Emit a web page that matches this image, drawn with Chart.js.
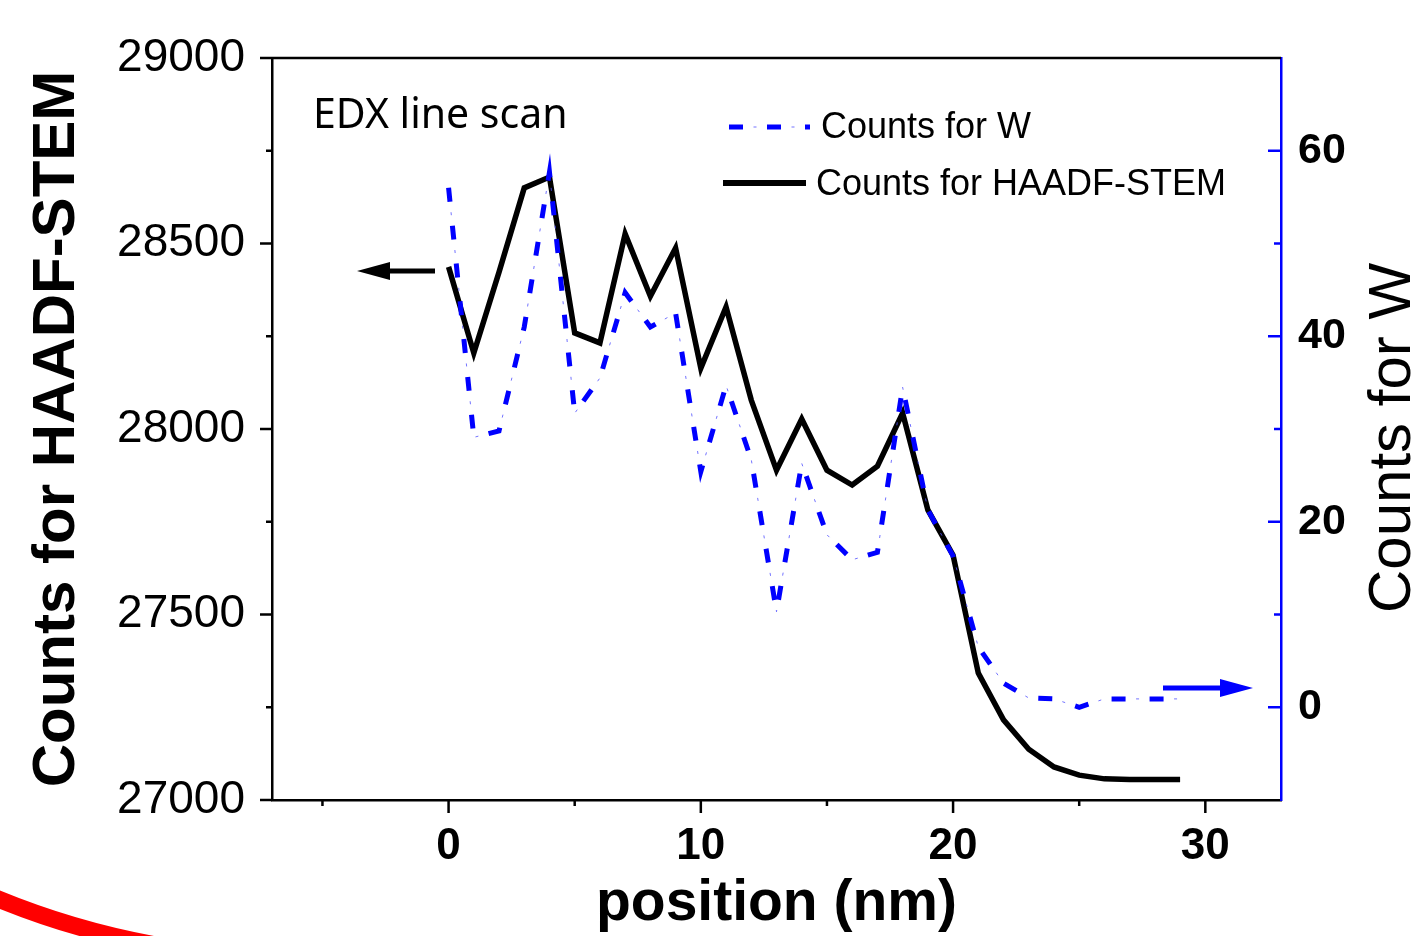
<!DOCTYPE html>
<html>
<head>
<meta charset="utf-8">
<script src="https://cdn.jsdelivr.net/npm/chart.js@4.4.1/dist/chart.umd.min.js"></script>
<style>
  html, body { margin: 0; padding: 0; background: #ffffff; }
  #wrap { width: 1417px; height: 936px; position: relative; }
  canvas { display: block; }
</style>
</head>
<body>
<div id="wrap"><canvas id="c" width="1417" height="936"></canvas></div>
<script>
// ---- data ----
const positions   = [0, 1, 2, 3, 4, 5, 6, 7, 8, 9, 10, 11, 12, 13, 14, 15, 16, 17, 18, 19, 20, 21, 22, 23, 24, 25, 26, 27, 28, 29];
const haadfCounts = [28437, 28205, 28423, 28650, 28679, 28259, 28232, 28526, 28358, 28488, 28164, 28329, 28078, 27889, 28027, 27889, 27849, 27900, 28043, 27782, 27660, 27342, 27216, 27137, 27089, 27067, 27057, 27055, 27055, 27055];
const wCounts     = [56.0, 29.1, 29.8, 41.0, 57.7, 31.7, 35.5, 44.7, 41.0, 42.5, 25.4, 34.7, 26.7, 10.3, 26.3, 18.6, 15.9, 16.7, 34.5, 21.3, 16.3, 6.5, 2.6, 1.0, 0.9, 0.0, 0.9, 0.9, 0.9, 0.9];

const xTicks          = [0, 10, 20, 30];
const xMinorTicks     = [-5, 5, 15, 25];
const leftTicks       = [27000, 27500, 28000, 28500, 29000];
const leftMinorTicks  = [27250, 27750, 28250, 28750];
const rightTicks      = [0, 20, 40, 60];
const rightMinorTicks = [10, 30, 50];

const seriesNames = ['Counts for W', 'Counts for HAADF-STEM'];
const leftTitle   = 'Counts for HAADF-STEM';
const rightTitle  = 'Counts for W';
const xTitle      = 'position (nm)';
const noteText    = 'EDX line scan';

const BLUE = '#0000ff';
const FONT = '"Liberation Sans", Arial, sans-serif';

const hData = positions.map((p, i) => ({ x: p, y: haadfCounts[i] }));
const wData = positions.map((p, i) => ({ x: p, y: wCounts[i] }));

// ---- decorations: minor/major ticks, legend, arrows, labels ----
const deco = {
  id: 'deco',
  afterDraw(chart) {
    const ctx = chart.ctx;
    const ca = chart.chartArea;
    const sx = chart.scales.x, sy = chart.scales.y, sy1 = chart.scales.y1;
    ctx.save();

    // top frame line
    ctx.strokeStyle = '#000'; ctx.lineWidth = 2.5;
    ctx.beginPath(); ctx.moveTo(ca.left, ca.top); ctx.lineTo(ca.right, ca.top); ctx.stroke();

    // left axis ticks (outward)
    ctx.lineWidth = 2.5; ctx.strokeStyle = '#000';
    leftTicks.forEach(v => { const y = sy.getPixelForValue(v); ctx.beginPath(); ctx.moveTo(ca.left - 12, y); ctx.lineTo(ca.left, y); ctx.stroke(); });
    leftMinorTicks.forEach(v => { const y = sy.getPixelForValue(v); ctx.beginPath(); ctx.moveTo(ca.left - 6, y); ctx.lineTo(ca.left, y); ctx.stroke(); });
    // bottom axis ticks (outward)
    xTicks.forEach(v => { const x = sx.getPixelForValue(v); ctx.beginPath(); ctx.moveTo(x, ca.bottom); ctx.lineTo(x, ca.bottom + 13); ctx.stroke(); });
    xMinorTicks.forEach(v => { const x = sx.getPixelForValue(v); ctx.beginPath(); ctx.moveTo(x, ca.bottom); ctx.lineTo(x, ca.bottom + 6); ctx.stroke(); });
    // right axis ticks (inward)
    ctx.strokeStyle = BLUE;
    rightTicks.forEach(v => { const y = sy1.getPixelForValue(v); ctx.beginPath(); ctx.moveTo(ca.right - 13, y); ctx.lineTo(ca.right, y); ctx.stroke(); });
    rightMinorTicks.forEach(v => { const y = sy1.getPixelForValue(v); ctx.beginPath(); ctx.moveTo(ca.right - 7, y); ctx.lineTo(ca.right, y); ctx.stroke(); });

    // right axis title (reads bottom to top)
    ctx.save();
    ctx.translate(1410, 438);
    ctx.rotate(-Math.PI / 2);
    ctx.fillStyle = '#000';
    ctx.font = '60px ' + FONT;
    ctx.textAlign = 'center'; ctx.textBaseline = 'alphabetic';
    ctx.fillText(rightTitle, 0, 0);
    ctx.restore();

    // note
    ctx.fillStyle = '#000';
    ctx.font = '41px "Noto Sans", "Open Sans", sans-serif';
    ctx.textAlign = 'left'; ctx.textBaseline = 'alphabetic';
    ctx.fillText(noteText, 313, 128);

    // legend
    ctx.font = '36px ' + FONT;
    ctx.textBaseline = 'middle';
    ctx.strokeStyle = BLUE; ctx.lineWidth = 5; ctx.setLineDash([14, 24]);
    ctx.beginPath(); ctx.moveTo(729, 127); ctx.lineTo(810, 127); ctx.stroke();
    ctx.strokeStyle = 'rgba(80,80,255,0.8)'; ctx.lineWidth = 1; ctx.setLineDash([3, 35]); ctx.lineDashOffset = 13.5;
    ctx.beginPath(); ctx.moveTo(729, 127); ctx.lineTo(810, 127); ctx.stroke();
    ctx.setLineDash([]); ctx.lineDashOffset = 0;
    ctx.fillStyle = '#000';
    ctx.fillText(seriesNames[0], 821, 128);
    ctx.strokeStyle = '#000'; ctx.lineWidth = 6;
    ctx.beginPath(); ctx.moveTo(723, 183); ctx.lineTo(806, 183); ctx.stroke();
    ctx.fillText(seriesNames[1], 816, 185);

    // arrows
    function arrow(x0, x1, y, color) {
      const dir = Math.sign(x1 - x0);
      ctx.strokeStyle = color; ctx.fillStyle = color; ctx.lineWidth = 5; ctx.lineCap = 'butt';
      ctx.beginPath(); ctx.moveTo(x0, y); ctx.lineTo(x1 - dir * 30, y); ctx.stroke();
      ctx.beginPath();
      ctx.moveTo(x1, y);
      ctx.lineTo(x1 - dir * 33, y - 9);
      ctx.lineTo(x1 - dir * 33, y + 9);
      ctx.closePath(); ctx.fill();
    }
    arrow(435, 357, 271, '#000');
    arrow(1163, 1253, 688, BLUE);

    // red arc fragment at the lower left
    ctx.strokeStyle = '#ff0000'; ctx.lineWidth = 17;
    ctx.beginPath(); ctx.arc(300, 158, 800, 95 * Math.PI / 180, 118 * Math.PI / 180); ctx.stroke();

    ctx.restore();
  }
};

new Chart(document.getElementById('c'), {
  type: 'line',
  data: {
    datasets: [
      { label: seriesNames[0], data: wData, yAxisID: 'y1', borderColor: BLUE, borderWidth: 5,
        borderDash: [14, 24], pointRadius: 0, tension: 0, fill: false, order: 0 },
      { label: seriesNames[0] + ' (dots)', data: wData, yAxisID: 'y1', borderColor: 'rgba(80,80,255,0.8)', borderWidth: 1,
        borderDash: [3, 35], borderDashOffset: 13.5, pointRadius: 0, tension: 0, fill: false, order: 1 },
      { label: seriesNames[1], data: hData, yAxisID: 'y', borderColor: '#000000', borderWidth: 5.5,
        pointRadius: 0, tension: 0, fill: false, order: 2, borderJoinStyle: 'miter' }
    ]
  },
  options: {
    responsive: false,
    animation: false,
    devicePixelRatio: 1,
    layout: { padding: { top: 58, left: 0, right: 0, bottom: 0 } },
    plugins: { legend: { display: false }, tooltip: { enabled: false } },
    scales: {
      x: {
        type: 'linear', position: 'bottom', min: -7, max: 33,
        afterFit: s => { s.height = 136; },
        afterBuildTicks: s => { s.ticks = xTicks.map(v => ({ value: v })); },
        grid: { display: false, drawTicks: false },
        border: { display: true, color: '#000', width: 2.5 },
        ticks: { color: '#000', font: { family: FONT, size: 44, weight: 'bold' }, padding: 20, maxRotation: 0, autoSkip: false,
                 callback: v => String(v) },
        title: { display: true, text: xTitle, color: '#000', font: { family: FONT, size: 57, weight: 'bold', lineHeight: 1 }, padding: { top: 0, bottom: 3 } }
      },
      y: {
        type: 'linear', position: 'left', min: 27000, max: 29000,
        afterFit: s => { s.width = 272; },
        afterBuildTicks: s => { s.ticks = leftTicks.map(v => ({ value: v })); },
        grid: { display: false, drawTicks: false },
        border: { display: true, color: '#000', width: 2.5 },
        ticks: { color: '#000', font: { family: FONT, size: 46 }, padding: 27, callback: v => String(v) },
        title: { display: true, text: leftTitle, color: '#000', font: { family: FONT, size: 60, weight: 'bold', lineHeight: 1 }, padding: { top: 27, bottom: 0 } }
      },
      y1: {
        type: 'linear', position: 'right', min: -10, max: 70,
        afterFit: s => { s.width = 136; },
        afterBuildTicks: s => { s.ticks = rightTicks.map(v => ({ value: v })); },
        grid: { display: false, drawTicks: false },
        border: { display: true, color: BLUE, width: 2.5 },
        ticks: { color: '#000', font: { family: FONT, size: 43, weight: 'bold' }, padding: 17, callback: v => String(v) },
        title: { display: false }
      }
    }
  },
  plugins: [deco]
});
</script>
</body>
</html>
